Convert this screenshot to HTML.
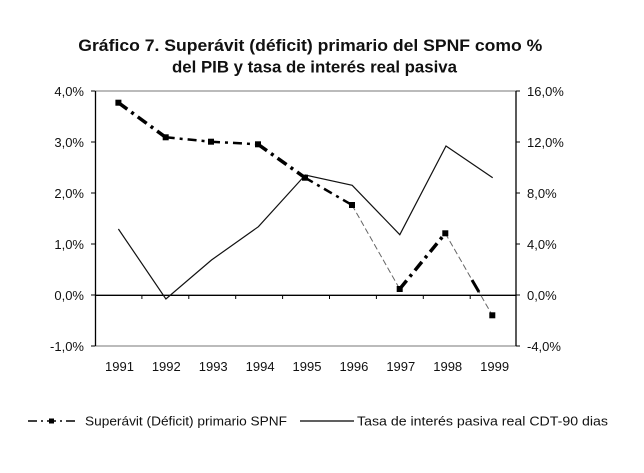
<!DOCTYPE html>
<html>
<head>
<meta charset="utf-8">
<style>
  html, body { margin:0; padding:0; background:#fff; }
  svg { display:block; }
  text { font-family: "Liberation Sans", Arial, sans-serif; fill:#111; }
</style>
</head>
<body>
<svg width="644" height="473" viewBox="0 0 644 473" xmlns="http://www.w3.org/2000/svg">
  <!-- Title -->
  <text x="78.3" y="51" font-size="16.5" font-weight="bold" textLength="464" lengthAdjust="spacingAndGlyphs">Gráfico 7.  Superávit (déficit) primario del SPNF como %</text>
  <text x="172" y="72.7" font-size="16.5" font-weight="bold" textLength="285" lengthAdjust="spacingAndGlyphs">del PIB y tasa de interés real pasiva</text>

  <!-- Plot frame -->
  <line x1="95" y1="91" x2="516" y2="91" stroke="#777" stroke-width="1"/>
  <line x1="95" y1="346" x2="516" y2="346" stroke="#777" stroke-width="1"/>
  <line x1="95.5" y1="91" x2="95.5" y2="346" stroke="#000" stroke-width="1.3"/>
  <line x1="516" y1="91" x2="516" y2="346" stroke="#000" stroke-width="1.3"/>
  <!-- zero line -->
  <line x1="95" y1="295.3" x2="516" y2="295.3" stroke="#000" stroke-width="1.3"/>

  <!-- left ticks -->
  <g stroke="#000" stroke-width="1">
    <line x1="91" y1="91" x2="95" y2="91"/>
    <line x1="91" y1="142" x2="95" y2="142"/>
    <line x1="91" y1="193" x2="95" y2="193"/>
    <line x1="91" y1="244" x2="95" y2="244"/>
    <line x1="91" y1="295" x2="95" y2="295"/>
    <line x1="91" y1="346" x2="95" y2="346"/>
    <line x1="516" y1="91" x2="520" y2="91"/>
    <line x1="516" y1="142" x2="520" y2="142"/>
    <line x1="516" y1="193" x2="520" y2="193"/>
    <line x1="516" y1="244" x2="520" y2="244"/>
    <line x1="516" y1="295" x2="520" y2="295"/>
    <line x1="516" y1="346" x2="520" y2="346"/>
    <!-- category ticks -->
    <line x1="141.9" y1="295" x2="141.9" y2="299"/>
    <line x1="188.8" y1="295" x2="188.8" y2="299"/>
    <line x1="235.7" y1="295" x2="235.7" y2="299"/>
    <line x1="282.6" y1="295" x2="282.6" y2="299"/>
    <line x1="329.5" y1="295" x2="329.5" y2="299"/>
    <line x1="376.4" y1="295" x2="376.4" y2="299"/>
    <line x1="423.3" y1="295" x2="423.3" y2="299"/>
    <line x1="470.2" y1="295" x2="470.2" y2="299"/>
  </g>

  <!-- left labels -->
  <g font-size="13" text-anchor="end">
    <text x="84" y="96">4,0%</text>
    <text x="84" y="147">3,0%</text>
    <text x="84" y="198">2,0%</text>
    <text x="84" y="249">1,0%</text>
    <text x="84" y="300">0,0%</text>
    <text x="84" y="351">-1,0%</text>
  </g>
  <!-- right labels -->
  <g font-size="13">
    <text x="527" y="96">16,0%</text>
    <text x="527" y="147">12,0%</text>
    <text x="527" y="198">8,0%</text>
    <text x="527" y="249">4,0%</text>
    <text x="527" y="300">0,0%</text>
    <text x="527" y="351">-4,0%</text>
  </g>
  <!-- year labels -->
  <g font-size="13" text-anchor="middle">
    <text x="119.5" y="371">1991</text>
    <text x="166.3" y="371">1992</text>
    <text x="213.2" y="371">1993</text>
    <text x="260.1" y="371">1994</text>
    <text x="307" y="371">1995</text>
    <text x="353.9" y="371">1996</text>
    <text x="400.8" y="371">1997</text>
    <text x="447.7" y="371">1998</text>
    <text x="494.6" y="371">1999</text>
  </g>

  <!-- Tasa series (solid) -->
  <polyline fill="none" stroke="#111" stroke-width="1.2"
    points="118.4,229 165.9,299 211.5,260 258.4,226.7 305.3,175 352.2,185.3 399.8,234.7 446,146 492.7,177.7"/>

  <!-- SPNF series segments -->
  <g fill="none" stroke="#000" stroke-linecap="butt">
    <line x1="118.4" y1="102.7" x2="165.7" y2="137.3" stroke-width="3.5" stroke-dasharray="11,5,3,5"/>
    <line x1="165.7" y1="137.3" x2="211" y2="141.7" stroke-width="2.5" stroke-dasharray="9,5,3,5"/>
    <line x1="211" y1="141.7" x2="258" y2="144.3" stroke-width="2.5" stroke-dasharray="9,5,3,5"/>
    <line x1="258" y1="144.3" x2="305" y2="177.7" stroke-width="3.5" stroke-dasharray="11,5,3,5"/>
    <line x1="305" y1="177.7" x2="352" y2="205" stroke-width="2.5" stroke-dasharray="9,5,3,5"/>
    <line x1="352" y1="205" x2="399.7" y2="289" stroke="#666" stroke-width="1" stroke-dasharray="6,3"/>
    <line x1="399.7" y1="289" x2="445.3" y2="233.3" stroke-width="3.5" stroke-dasharray="11,5,3,5"/>
    <line x1="445.3" y1="233.3" x2="492.3" y2="315.3" stroke="#666" stroke-width="1" stroke-dasharray="6,3"/>
    <line x1="472" y1="280" x2="479" y2="292" stroke-width="3"/>
  </g>
  <g fill="#000">
    <rect x="115.4" y="99.7" width="6" height="6"/>
    <rect x="162.7" y="134.3" width="6" height="6"/>
    <rect x="208" y="138.7" width="6" height="6"/>
    <rect x="255" y="141.3" width="6" height="6"/>
    <rect x="302" y="174.7" width="6" height="6"/>
    <rect x="349" y="202" width="6" height="6"/>
    <rect x="396.7" y="286" width="6" height="6"/>
    <rect x="442.3" y="230.3" width="6" height="6"/>
    <rect x="489.3" y="312.3" width="6" height="6"/>
  </g>

  <!-- Legend -->
  <line x1="28" y1="421" x2="77" y2="421" stroke="#000" stroke-width="1.5" stroke-dasharray="9,4,2,4"/>
  <rect x="49" y="418.5" width="5" height="5" fill="#000"/>
  <text x="85" y="425.5" font-size="12.5" textLength="202" lengthAdjust="spacingAndGlyphs">Superávit (Déficit) primario SPNF</text>
  <line x1="300" y1="421" x2="354" y2="421" stroke="#000" stroke-width="1.2"/>
  <text x="357" y="425.5" font-size="12.5" textLength="251" lengthAdjust="spacingAndGlyphs">Tasa de interés pasiva real CDT-90 dias</text>
</svg>
</body>
</html>
